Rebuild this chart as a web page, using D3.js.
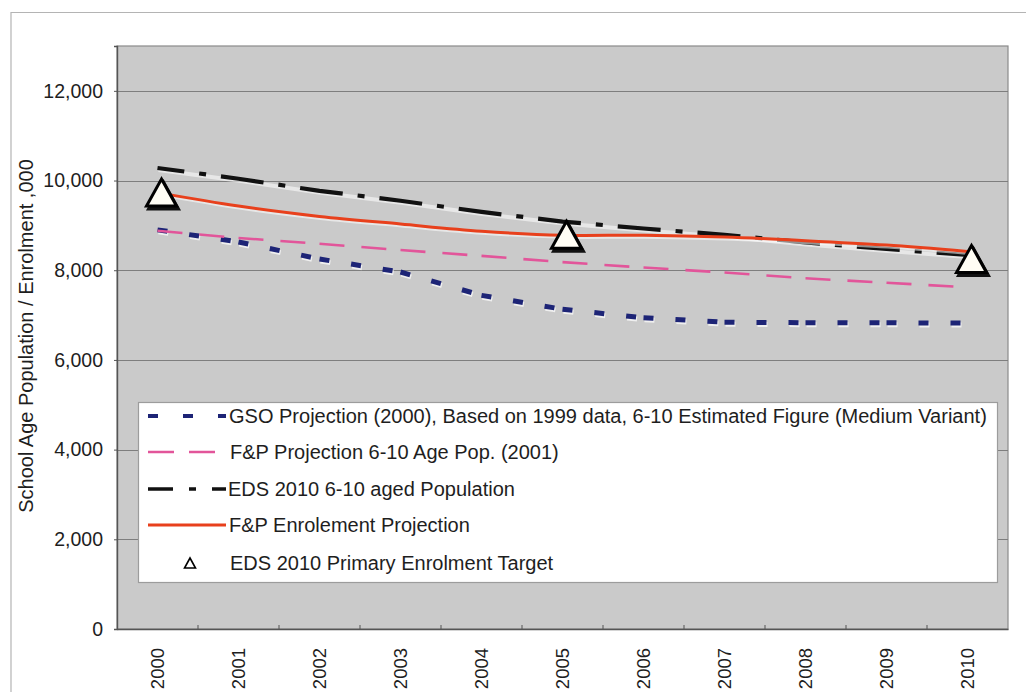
<!DOCTYPE html>
<html>
<head>
<meta charset="utf-8">
<script src="https://cdn.jsdelivr.net/npm/d3@7"></script>
<style>
  html, body { margin: 0; padding: 0; background: #ffffff; }
  svg { display: block; }
  text { font-family: "Liberation Sans", Arial, sans-serif; fill: #1e1e1e; }
</style>
</head>
<body>
<svg id="chart" width="1026" height="692"></svg>
<script>
// ---------- data ----------
const years = [2000, 2001, 2002, 2003, 2004, 2005, 2006, 2007, 2008, 2009, 2010];
const gsoProjection = [8900, 8630, 8250, 7960, 7440, 7130, 6940, 6840, 6830, 6830, 6820];
const fpPopProjection = [8880, 8720, 8590, 8450, 8320, 8180, 8060, 7950, 7820, 7720, 7620];
const edsPopulation = [10280, 10040, 9770, 9550, 9300, 9085, 8930, 8790, 8620, 8475, 8340];
const fpEnrolment = [9730, 9430, 9200, 9030, 8870, 8780, 8780, 8740, 8660, 8560, 8420];
const targetYears = [2000, 2005, 2010];
const targetValues = [9720, 8780, 8240];
const yTicks = [0, 2000, 4000, 6000, 8000, 10000, 12000];
const seriesNames = [
  "GSO Projection (2000), Based on 1999 data, 6-10 Estimated Figure (Medium Variant)",
  "F&P Projection 6-10 Age Pop. (2001)",
  "EDS 2010 6-10 aged Population",
  "F&P Enrolement Projection",
  "EDS 2010 Primary Enrolment Target"
];
const yTitle = "School Age Population / Enrolment ,000";

// ---------- layout ----------
const svg = d3.select("#chart");
const plot = { left: 117, right: 1008, top: 46, bottom: 629 };

const x = d3.scaleBand().domain(years).range([plot.left, plot.right]);
const cx = d => x(d) + x.bandwidth() / 2;
const y = d3.scaleLinear().domain([0, 13000]).range([plot.bottom, plot.top]);

// outer frame
svg.append("path")
  .attr("d", `M11,700 L11,12.5 L1030,12.5`)
  .attr("fill", "none").attr("stroke", "#b4b4b4").attr("stroke-width", 1.2);

// plot background
svg.append("rect")
  .attr("x", plot.left).attr("y", plot.top)
  .attr("width", plot.right - plot.left).attr("height", plot.bottom - plot.top)
  .attr("fill", "#cacaca").attr("stroke", "#8a8a8a").attr("stroke-width", 1.2);

// gridlines
svg.append("g").selectAll("line")
  .data(yTicks.filter(t => t > 0))
  .join("line")
  .attr("x1", plot.left).attr("x2", plot.right)
  .attr("y1", d => Math.round(y(d)) + 0.5).attr("y2", d => Math.round(y(d)) + 0.5)
  .attr("stroke", "#7e7e7e").attr("stroke-width", 1.2);

// y axis
const yAxis = svg.append("g")
  .attr("transform", `translate(${plot.left},0)`)
  .call(d3.axisLeft(y).tickValues(yTicks).tickFormat(d3.format(",")).tickSize(3).tickPadding(11));
yAxis.select(".domain").attr("stroke", "#555").attr("stroke-width", 1.4);
yAxis.selectAll(".tick line").attr("stroke", "#555");
yAxis.selectAll("text").style("font-size", "19.5px").attr("fill", "#1e1e1e")
  .style("font-family", '"Liberation Sans", Arial, sans-serif');

// x axis
const xAxis = svg.append("g")
  .attr("transform", `translate(0,${plot.bottom})`)
  .call(d3.axisBottom(x).tickSize(0).tickPadding(0));
xAxis.select(".domain").attr("stroke", "#555").attr("stroke-width", 1.6);
xAxis.selectAll(".tick text")
  .style("font-size", "18.5px").attr("fill", "#1e1e1e")
  .style("font-family", '"Liberation Sans", Arial, sans-serif')
  .attr("text-anchor", "end")
  .attr("transform", "translate(0,19) rotate(-90)")
  .attr("x", 0).attr("y", 0).attr("dy", "0.35em");
// category boundary ticks (inside)
svg.append("g").selectAll("line")
  .data(years.slice(1))
  .join("line")
  .attr("x1", d => x(d)).attr("x2", d => x(d))
  .attr("y1", plot.bottom - 4).attr("y2", plot.bottom)
  .attr("stroke", "#555").attr("stroke-width", 1);

// y title
svg.append("text")
  .attr("transform", `translate(26,336) rotate(-90)`)
  .attr("text-anchor", "middle")
  .attr("dy", "0.35em")
  .style("font-size", "20px")
  .text(yTitle);

// ---------- series ----------
const lineGen = d3.line().x(d => cx(d[0])).y(d => y(d[1]));
const pairs = vals => years.map((yr, i) => [yr, vals[i]]);

function segmented(g, vals, color, width, dash) {
  const p = pairs(vals);
  for (let i = 0; i < p.length - 1; i++) {
    g.append("path").attr("d", lineGen([p[i], p[i + 1]]))
      .attr("fill", "none").attr("stroke", color).attr("stroke-width", width)
      .attr("stroke-dasharray", dash);
  }
}
function halo(vals, width, curve) {
  const gen = d3.line().x(d => cx(d[0])).y(d => y(d[1])).curve(curve || d3.curveLinear);
  svg.append("path").attr("d", gen(pairs(vals)))
    .attr("transform", "translate(1,2)")
    .attr("fill", "none").attr("stroke", "#ffffff").attr("stroke-opacity", 0.55)
    .attr("stroke-width", width);
}

// GSO projection (navy short dashes, restarted per segment)
const gBlue = svg.append("g");
const gBlueHalo = gBlue.append("g").attr("transform", "translate(1,2)").attr("opacity", 0.7);
segmented(gBlueHalo, gsoProjection, "#ffffff", 5, "10,22");
segmented(gBlue, gsoProjection, "#1d2476", 5, "10,22");

// F&P Pop projection (pink dashes)
const gPink = svg.append("g");
segmented(gPink, fpPopProjection, "#e2559a", 2.6, "25,17");

// EDS population (black dash-dot)
halo(edsPopulation, 4);
svg.append("path").attr("d", lineGen(pairs(edsPopulation)))
  .attr("fill", "none").attr("stroke", "#111").attr("stroke-width", 4.2)
  .attr("stroke-dasharray", "43,15,7,15").attr("stroke-dashoffset", 16);

// F&P enrolment projection (red smooth)
halo(fpEnrolment, 3, d3.curveCatmullRom);
svg.append("path")
  .attr("d", d3.line().x(d => cx(d[0])).y(d => y(d[1])).curve(d3.curveCatmullRom)(pairs(fpEnrolment)))
  .attr("fill", "none").attr("stroke", "#e8401c").attr("stroke-width", 3);

// EDS targets (triangles)
const tri = "M0,-14 L15,13 L-15,13 Z";
const targets = targetYears.map((yr, i) => ({ yr, v: targetValues[i] }));
const tg = svg.append("g").selectAll("g").data(targets).join("g")
  .attr("transform", d => `translate(${cx(d.yr) + 4},${y(d.v)})`);
tg.append("path").attr("d", tri).attr("transform", "translate(2,3)")
  .attr("fill", "#111").attr("stroke", "#111").attr("stroke-width", 3).attr("stroke-linejoin", "miter");
tg.append("path").attr("d", tri)
  .attr("fill", "#fffdf4").attr("stroke", "#000").attr("stroke-width", 3).attr("stroke-linejoin", "miter");

// ---------- legend ----------
const lg = svg.append("g");
lg.append("rect").attr("x", 138.5).attr("y", 402.5).attr("width", 859).attr("height", 180)
  .attr("fill", "#ffffff").attr("stroke", "#9c9c9c").attr("stroke-width", 1.2);
const rowsY = [416, 452, 489, 525, 563];
const textX = [229, 230, 228, 229, 230];
const sx0 = 148, sx1 = 226;
// blue sample
lg.append("line").attr("x1", sx0).attr("x2", sx1).attr("y1", rowsY[0]).attr("y2", rowsY[0])
  .attr("stroke", "#1d2476").attr("stroke-width", 4).attr("stroke-dasharray", "10,25");
// pink sample
lg.append("line").attr("x1", sx0).attr("x2", 215).attr("y1", rowsY[1]).attr("y2", rowsY[1])
  .attr("stroke", "#e2559a").attr("stroke-width", 2.6).attr("stroke-dasharray", "26,15");
// black sample
lg.append("line").attr("x1", sx0).attr("x2", sx1).attr("y1", rowsY[2]).attr("y2", rowsY[2])
  .attr("stroke", "#111").attr("stroke-width", 3.5).attr("stroke-dasharray", "25,16,7,16");
// red sample
lg.append("line").attr("x1", sx0).attr("x2", sx1).attr("y1", rowsY[3]).attr("y2", rowsY[3])
  .attr("stroke", "#e8401c").attr("stroke-width", 3);
// triangle sample
lg.append("path").attr("d", "M0,-5 L5.5,5 L-5.5,5 Z")
  .attr("transform", `translate(190,${rowsY[4]})`)
  .attr("fill", "#fff").attr("stroke", "#000").attr("stroke-width", 1.6);
lg.selectAll("text.lbl").data(seriesNames).join("text")
  .attr("class", "lbl")
  .attr("x", (d, i) => textX[i]).attr("y", (d, i) => rowsY[i])
  .attr("dy", "0.35em")
  .style("font-size", "20px")
  .text(d => d);
</script>
</body>
</html>
